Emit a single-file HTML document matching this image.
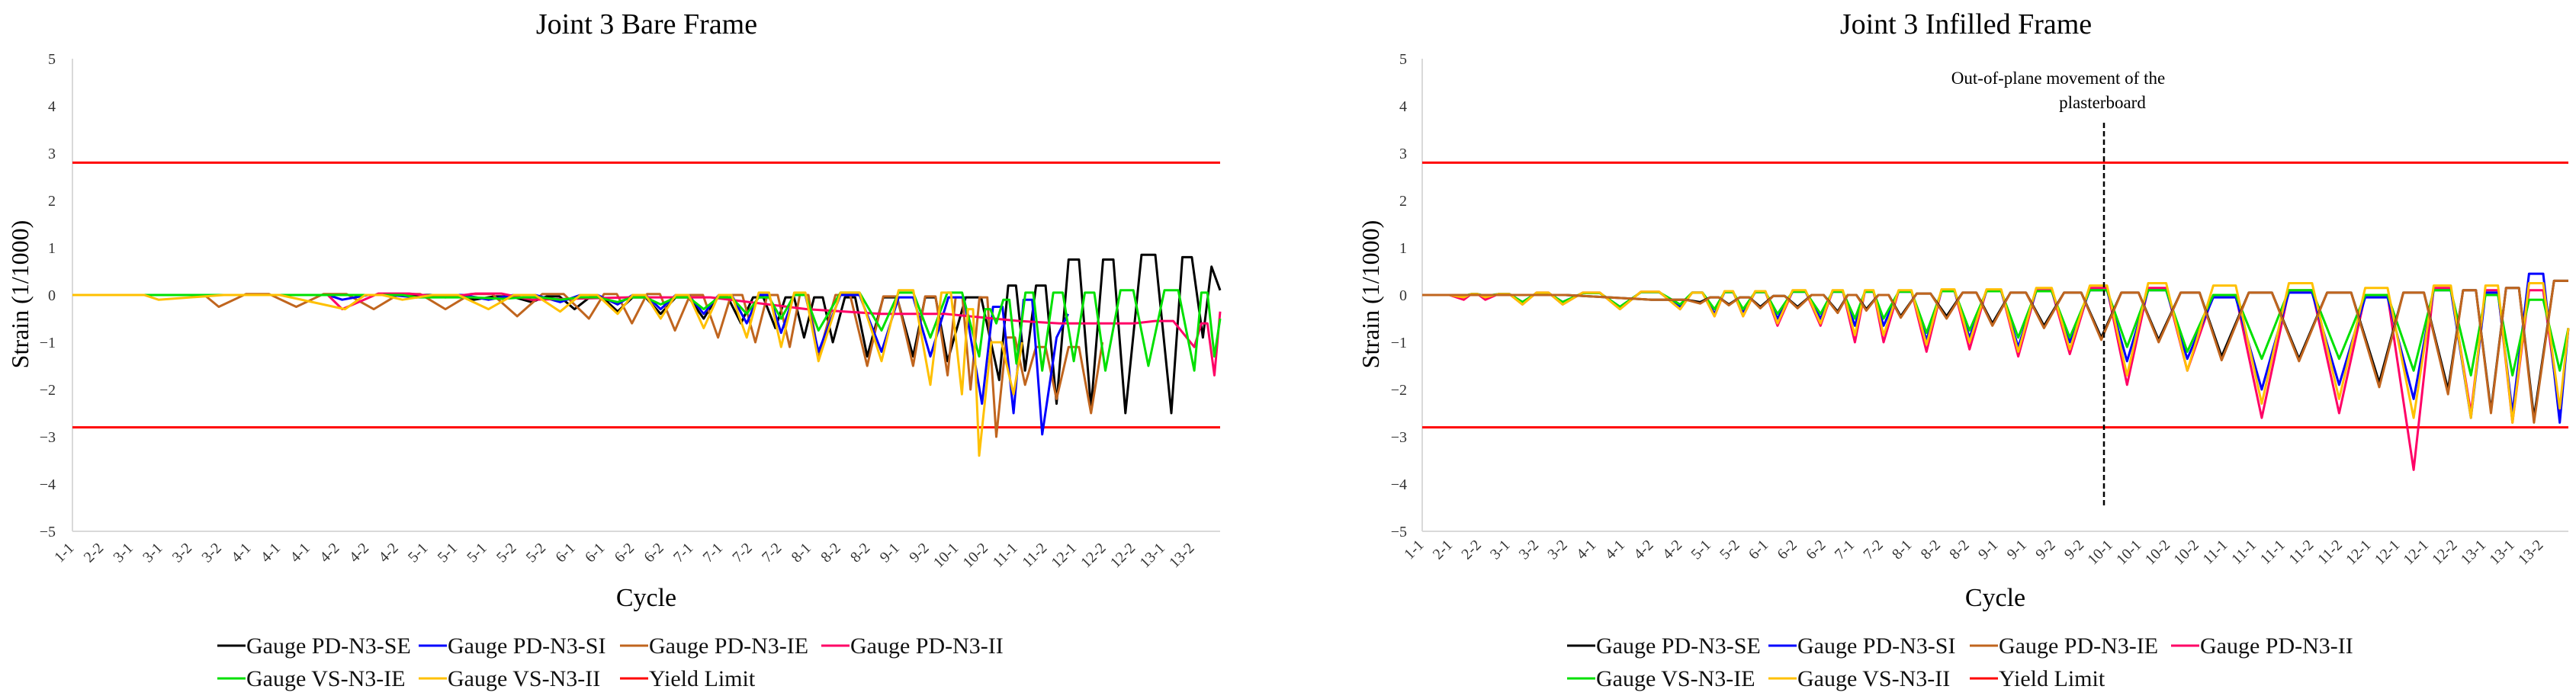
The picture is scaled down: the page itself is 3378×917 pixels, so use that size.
<!DOCTYPE html>
<html><head><meta charset="utf-8"><style>
html,body{margin:0;padding:0;background:#fff;}
svg{display:block;font-family:"Liberation Serif",serif;}
</style></head><body>
<svg id="chart" width="3378" height="917" viewBox="0 0 3378 917" xmlns="http://www.w3.org/2000/svg"></svg>
<script>
// ---------- DATA ----------
const yTicks = [5,4,3,2,1,0,-1,-2,-3,-4,-5];
const yieldLimits = [2.8,-2.8];
const leftCats = ["1-1","2-2","3-1","3-1","3-2","3-2","4-1","4-1","4-1","4-2","4-2","4-2","5-1","5-1","5-1","5-2","5-2","6-1","6-1","6-2","6-2","7-1","7-1","7-2","7-2","8-1","8-2","8-2","9-1","9-2","10-1","10-2","11-1","11-2","12-1","12-2","12-2","13-1","13-2"];
const rightCats = ["1-1","2-1","2-2","3-1","3-2","3-2","4-1","4-1","4-2","4-2","5-1","5-2","6-1","6-2","6-2","7-1","7-2","8-1","8-2","8-2","9-1","9-1","9-2","9-2","10-1","10-1","10-2","10-2","11-1","11-1","11-1","11-2","11-2","12-1","12-1","12-1","12-2","13-1","13-1","13-2"];
const legendNames = ["Gauge PD-N3-SE","Gauge PD-N3-SI","Gauge PD-N3-IE","Gauge PD-N3-II","Gauge VS-N3-IE","Gauge VS-N3-II","Yield Limit"];

// Left (bare frame) series: trough positions (cycle index), trough values, plateau values, tail points
const blackLX = [14,16,17.5,19,20.5,22,23.3,24.5,25.5,26.5,27.7,29.3,30.5,32.3,33.2,34.3,35.5,36.7,38.3,39.4];
const blackLD = [-0.1,-0.15,-0.3,-0.35,-0.4,-0.5,-0.6,-0.7,-0.9,-1.0,-1.3,-1.3,-1.4,-1.8,-1.6,-2.3,-2.4,-2.5,-2.5,-0.9];
const blackLP = [-0.03,-0.03,-0.05,-0.05,-0.05,-0.05,-0.05,-0.05,-0.05,-0.05,-0.05,-0.05,-0.05,0.2,0.2,0.75,0.75,0.85,0.8];
const blackLT = [[39.7,0.6],[40,0.1]];

const orangeLX = [5.1,7.8,10.5,13,15.5,18,19.5,21,22.5,23.8,25,26,27.7,29.3,30.5,31.3,32.2,33.2,34.3,35.5];
const orangeLD = [-0.25,-0.25,-0.3,-0.3,-0.45,-0.5,-0.6,-0.75,-0.9,-1.0,-1.1,-1.3,-1.5,-1.5,-1.7,-2.0,-3.0,-1.9,-2.2,-2.5];
const orangeLP = [0.02,0.02,0.02,0.02,0.02,0.02,0.02,0,0,0,0,0,-0.03,-0.03,-0.05,-0.05,-0.9,-1.1,-1.1];
const orangeLT = [[35.9,-1.0]];

const blueLX = [9.4,12,14.5,17,19,20.5,22,23.5,24.7,26,28.2,29.9,31.7,32.8,33.8];
const blueLD = [-0.1,-0.05,-0.1,-0.15,-0.2,-0.3,-0.4,-0.6,-0.8,-1.2,-1.2,-1.3,-2.3,-2.5,-2.95];
const blueLP = [0,0,0,0,0,0,0,0,0,0,-0.05,-0.05,-0.25,-0.1];
const blueLT = [[34.3,-0.9],[34.7,-0.4]];

const yellowLX = [3,9.5,11.5,14.5,17,19,20.5,22,23.5,24.7,26,28.2,29.9,31,31.6,32.8];
const yellowLD = [-0.1,-0.3,-0.1,-0.3,-0.35,-0.4,-0.5,-0.7,-0.9,-1.1,-1.4,-1.4,-1.9,-2.1,-3.4,-2.1];
const yellowLP = [0,0,0,0,0,0,0,0,0.05,0.05,0.05,0.1,0.05,-0.3,-1.0];
const yellowLT = [[33.1,-1.0]];

const greenLX = [12,15,17,19,20.5,22,23.5,24.7,26,28.2,29.9,31.6,32.2,32.9,33.8,34.9,36,37.5,39.1,39.8];
const greenLD = [-0.05,-0.08,-0.1,-0.15,-0.2,-0.3,-0.4,-0.5,-0.75,-0.75,-0.9,-1.3,-0.6,-1.45,-1.6,-1.4,-1.6,-1.5,-1.6,-1.3];
const greenLP = [-0.05,-0.05,-0.05,-0.05,-0.05,-0.05,-0.05,0,0.05,0.05,0.05,-0.3,-0.1,0.05,0.05,0.05,0.1,0.1,0.05];
const greenLT = [[40,-0.5]];

const pinkLX = [9.4,13,16,25.6,33,37,39.1,39.8];
const pinkLD = [-0.3,-0.05,-0.1,-0.3,-0.55,-0.6,-1.1,-1.7];
const pinkLP = [0.03,0.03,-0.05,-0.4,-0.6,-0.55,-0.6];
const pinkLT = [[40,-0.35]];

// Right (infilled frame)
const groupRX = [1.45,2.2,3.5,4.9,6.9,9.0,10.2,11.2,12.4,13.9,15.1,16.1,17.6,19.1,20.8,22.6,24.6,26.7,29.3,32.0,34.6,36.6,38.05,39.7];
const pinkRD = [-0.1,-0.1,-0.2,-0.2,-0.3,-0.3,-0.45,-0.45,-0.65,-0.65,-1.0,-1.0,-1.2,-1.15,-1.3,-1.25,-1.9,-1.6,-2.6,-2.5,-3.7,-2.5,-2.7,-2.5];
const yellowRD = [-0.05,-0.05,-0.2,-0.2,-0.3,-0.3,-0.45,-0.45,-0.6,-0.6,-0.85,-0.85,-1.05,-1.0,-1.2,-1.15,-1.7,-1.6,-2.3,-2.2,-2.6,-2.6,-2.7,-2.4];
const blueRD = [-0.03,-0.03,-0.15,-0.15,-0.25,-0.25,-0.4,-0.35,-0.5,-0.5,-0.65,-0.65,-0.95,-0.9,-1.1,-1.0,-1.4,-1.35,-2.0,-1.9,-2.2,-2.6,-2.5,-2.7];
const greenRD = [-0.02,-0.02,-0.15,-0.15,-0.25,-0.2,-0.3,-0.3,-0.4,-0.4,-0.5,-0.5,-0.8,-0.75,-0.9,-0.9,-1.1,-1.2,-1.35,-1.35,-1.6,-1.7,-1.7,-1.6];
const yellowRP = [0.02,0.02,0.05,0.05,0.07,0.05,0.08,0.08,0.1,0.1,0.1,0.1,0.12,0.12,0.15,0.2,0.25,0.2,0.25,0.15,0.2,0.2,0.25];
const pinkRP = [0.02,0.02,0.05,0.05,0.07,0.05,0.07,0.07,0.08,0.08,0.08,0.08,0.1,0.1,0.1,0.15,0.15,0.0,0.1,0.0,0.15,0.1,0.1];
const blueRP = [0.02,0.02,0.04,0.04,0.06,0.05,0.06,0.06,0.07,0.07,0.07,0.07,0.08,0.08,0.08,0.1,0.1,-0.05,0.05,-0.05,0.1,0.05,0.45];
const greenRP = [0.02,0.02,0.04,0.04,0.06,0.05,0.06,0.06,0.07,0.07,0.07,0.07,0.08,0.08,0.08,0.1,0.1,0.0,0.1,0.0,0.1,0.0,-0.1];
const groupRT = [[40,-0.7]];

const blackRX = [9.7,10.7,11.8,13.1,14.5,15.5,16.7,18.3,19.9,21.7,23.7,25.7,27.9,30.6,33.4,35.8,37.3,38.8];
const blackRD = [-0.15,-0.2,-0.25,-0.25,-0.35,-0.3,-0.45,-0.45,-0.6,-0.65,-0.9,-0.95,-1.3,-1.35,-1.85,-2.0,-2.45,-2.6];
const orangeRD = [-0.18,-0.22,-0.28,-0.28,-0.38,-0.33,-0.48,-0.5,-0.65,-0.7,-0.95,-1.0,-1.38,-1.4,-1.95,-2.1,-2.5,-2.7];
const blackRP = [-0.05,-0.05,-0.02,0,0,0,0.03,0.05,0.05,0.05,0.05,0.05,0.05,0.05,0.05,0.1,0.15];
const blackRT = [[39.5,0.3],[40,0.3]];
const blackRLead = [[0,0],[5,0],[8,-0.1]];

// ---------- RENDER ----------
const NS = "http://www.w3.org/2000/svg";
const svg = document.getElementById("chart");
function mk(tag, attrs, parent){ const e=document.createElementNS(NS,tag); for(const k in attrs) e.setAttribute(k,attrs[k]); (parent||svg).appendChild(e); return e; }

const Y0 = 387, YU = 62;
function yS(v){ return Y0 - v*YU; }

function build(tx, td, tp, tail, lead){
  const pts = lead ? lead.slice() : [[0,0]];
  for(let i=0;i<tx.length;i++){
    if(i===0){ pts.push([Math.max(pts[pts.length-1][0], tx[0]-0.5), pts[pts.length-1][1]]); }
    else { const g = tx[i]-tx[i-1]; pts.push([tx[i-1]+0.35*g, tp[i-1]]); pts.push([tx[i]-0.35*g, tp[i-1]]); }
    pts.push([tx[i], td[i]]);
  }
  return pts.concat(tail||[]);
}

function chart(opt){
  const g = mk("g",{});
  
  
  const x0=opt.x0, x1=opt.x1, bw=(x1-x0)/40;
  const xS = c => x0 + c*bw;
  // title
  const t = mk("text",{x:opt.titleX,y:44,"text-anchor":"middle","font-size":38,fill:"#000"},g);
  t.textContent = opt.title;
  
  
  // y ticks
  yTicks.forEach(v=>{
    const tt = mk("text",{x:opt.tickX,y:yS(v)+7,"text-anchor":"end","font-size":20,fill:"#333"},g);
    tt.textContent = v<0 ? "\u2212"+Math.abs(v) : String(v);
    
    
  });
  const yt = mk("text",{x:0,y:0,"text-anchor":"middle","font-size":32,fill:"#000",transform:`translate(${opt.yTitleX},386) rotate(-90)`},g);
  yt.textContent = "Strain (1/1000)";
  
  
  // axes
  const ya = mk("line",{x1:x0,y1:yS(5),x2:x0,y2:yS(-5),stroke:"#d9d9d9","stroke-width":2},g);
  
  
  const xa = mk("line",{x1:x0,y1:yS(-5),x2:x1,y2:yS(-5),stroke:"#d9d9d9","stroke-width":2},g);
  
  
  // x labels
  opt.cats.forEach((c,i)=>{
    const lx = opt.labX0 + i*opt.labStep, ly = opt.labY;
    const tl = mk("text",{x:lx,y:ly,"text-anchor":"end","font-size":20,fill:"#333",transform:`rotate(-45 ${lx} ${ly})`},g);
    tl.textContent = c;
    
    
  });
  const xt = mk("text",{x:(x0+x1)/2,y:795,"text-anchor":"middle","font-size":34,fill:"#000"},g);
  xt.textContent = "Cycle";
  
  
  // yield limits
  yieldLimits.forEach(v=>{
    const l = mk("line",{x1:x0,y1:yS(v),x2:x1,y2:yS(v),stroke:"#ff0000","stroke-width":3},g);
    
    
  });
  // series
  opt.series.forEach(s=>{
    const d = s.pts.map((p,i)=>(i?"L":"M")+xS(p[0]).toFixed(1)+" "+yS(p[1]).toFixed(1)).join(" ");
    const p = mk("path",{d:d,fill:"none",stroke:s.color,"stroke-width":3,"stroke-linejoin":"round"},g);
    
    
  });
  // legend
  const cols = [0,264,528,792];
  const colors = ["#000000","#0000ff","#c0651e","#ff0066","#00e000","#ffc000","#ff0000"];
  legendNames.forEach((n,i)=>{
    const r = Math.floor(i/4), c = i%4;
    const lx = opt.legX + cols[c], ly = r ? 900 : 857;
    const le = mk("g",{},g);
    
    
    mk("line",{x1:lx,y1:ly-10,x2:lx+37,y2:ly-10,stroke:colors[i],"stroke-width":3},le);
    const tx = mk("text",{x:lx+38,y:ly,"font-size":30,fill:"#111"},le);
    tx.textContent = n;
  });
  return {g,xS};
}

chart({name:"bare-frame-chart",title:"Joint 3 Bare Frame",titleX:848,x0:95,x1:1600,tickX:73,yTitleX:37,
  cats:leftCats,labX0:98,labStep:38.66,labY:720,legX:285,
  series:[
    {name:"series-pd-n3-se",color:"#000000",pts:build(blackLX,blackLD,blackLP,blackLT)},
    {name:"series-pd-n3-ie",color:"#c0651e",pts:build(orangeLX,orangeLD,orangeLP,orangeLT)},
    {name:"series-pd-n3-si",color:"#0000ff",pts:build(blueLX,blueLD,blueLP,blueLT)},
    {name:"series-pd-n3-ii",color:"#ff0066",pts:build(pinkLX,pinkLD,pinkLP,pinkLT)},
    {name:"series-vs-n3-ie",color:"#00e000",pts:build(greenLX,greenLD,greenLP,greenLT)},
    {name:"series-vs-n3-ii",color:"#ffc000",pts:build(yellowLX,yellowLD,yellowLP,yellowLT)}
  ]});

chart({name:"infilled-frame-chart",title:"Joint 3 Infilled Frame",titleX:2578,x0:1865,x1:3368,tickX:1845,yTitleX:1808,
  cats:rightCats,labX0:1868,labStep:37.64,labY:716,legX:2055,
  series:[
    {name:"series-pd-n3-ii",color:"#ff0066",pts:build(groupRX,pinkRD,pinkRP,groupRT)},
    {name:"series-pd-n3-si",color:"#0000ff",pts:build(groupRX,blueRD,blueRP,groupRT)},
    {name:"series-vs-n3-ie",color:"#00e000",pts:build(groupRX,greenRD,greenRP,groupRT)},
    {name:"series-vs-n3-ii",color:"#ffc000",pts:build(groupRX,yellowRD,yellowRP,groupRT)},
    {name:"series-pd-n3-se",color:"#000000",pts:build(blackRX,blackRD,blackRP,blackRT,blackRLead)},
    {name:"series-pd-n3-ie",color:"#c0651e",pts:build(blackRX,orangeRD,blackRP,blackRT,blackRLead)}
  ]});

// annotation
const dl = mk("line",{x1:2759,y1:161,x2:2759,y2:664,stroke:"#000","stroke-width":2.5,"stroke-dasharray":"7 4"});


const a1 = mk("text",{x:2699,y:110,"text-anchor":"middle","font-size":23,fill:"#000"});
a1.textContent = "Out-of-plane  movement  of the";


const a2 = mk("text",{x:2757,y:142,"text-anchor":"middle","font-size":23,fill:"#000"});
a2.textContent = "plasterboard";


</script>
</body></html>
